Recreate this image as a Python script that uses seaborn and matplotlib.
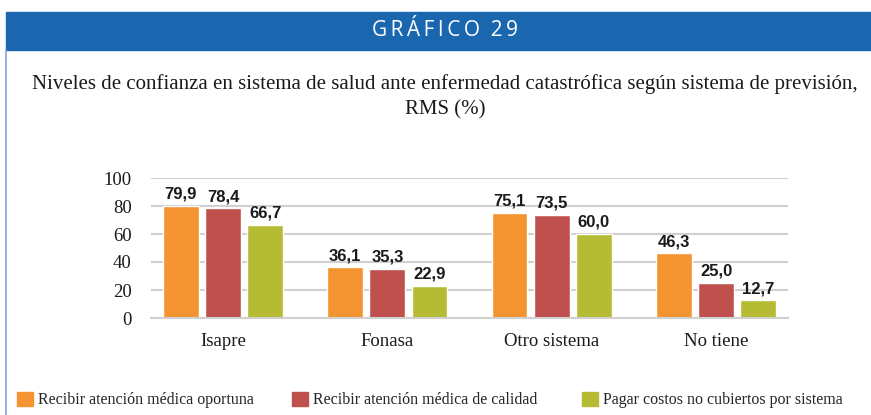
import numpy as np
import pandas as pd
import seaborn as sns
import matplotlib.pyplot as plt
from matplotlib.patches import Rectangle, Patch

# data
sistemas = ["Isapre", "Fonasa", "Otro sistema", "No tiene"]
series = ["Recibir atención médica oportuna",
          "Recibir atención médica de calidad",
          "Pagar costos no cubiertos por sistema"]
oportuna = [79.9, 36.1, 75.1, 46.3]
calidad = [78.4, 35.3, 73.5, 25.0]
costos = [66.7, 22.9, 60.0, 12.7]
colores = ["#F39430", "#C0504D", "#B5BB32"]

df = pd.DataFrame({"Sistema": sistemas, series[0]: oportuna,
                   series[1]: calidad, series[2]: costos})
long = df.melt(id_vars="Sistema", var_name="Serie", value_name="Porcentaje")

sns.set_theme(style="white")
serif = ["Liberation Serif", "DejaVu Serif"]
narrow = ["Liberation Sans", "DejaVu Sans"]

fig = plt.figure(figsize=(8.71, 4.15), dpi=100)
W, H = 871, 415
ax = fig.add_axes([151 / W, 1 - 318 / H, (788 - 151) / W, (318 - 178) / H])

sns.barplot(data=long, x="Sistema", y="Porcentaje", hue="Serie",
            palette=colores, width=0.77, gap=0.15, ax=ax, legend=False,
            saturation=1)

for cont in ax.containers:
    ax.bar_label(cont, labels=[f"{v:.1f}".replace(".", ",") for v in cont.datavalues],
                 padding=3, fontsize=12, fontweight="bold", family=narrow,
                 color="#1a1a1a")

ax.set_xlim(-0.438, 3.438)
ax.set_ylim(0, 100)
ax.set_yticks(range(0, 101, 20))
ax.yaxis.grid(True, color="#d0d0d0", linewidth=1.5)
ax.set_axisbelow(True)
for s in ["top", "right", "left"]:
    ax.spines[s].set_visible(False)
ax.spines["bottom"].set_color("#d0d0d0")
ax.spines["bottom"].set_linewidth(1.5)
ax.tick_params(axis="both", length=0, labelsize=13.5, colors="#1a1a1a")
ax.tick_params(axis="y", pad=14)
ax.tick_params(axis="x", pad=11)
for lab in ax.get_xticklabels() + ax.get_yticklabels():
    lab.set_family(serif)
ax.set_xlabel("")
ax.set_ylabel("")

# header band and frame line
fig.patches.append(Rectangle((6 / W, 1 - 50 / H), 1 - 6 / W, 38 / H,
                             transform=fig.transFigure, color="#1A67AF", zorder=0))
fig.lines.append(plt.Line2D([6 / W, 6 / W], [0, 1 - 50 / H],
                            transform=fig.transFigure, color="#7FA8D4", linewidth=1.2))
fig.text(445 / W, 1 - 31 / H, "\u2009".join("GRÁFICO") + "  " + "\u2009".join("29"),
         ha="center", va="center", color="white", fontsize=15,
         family=["Open Sans", "DejaVu Sans"])

fig.text(445 / W, 1 - 84 / H,
         "Niveles de confianza en sistema de salud ante enfermedad catastrófica según sistema de previsión,",
         ha="center", va="center", fontsize=15, family=serif, color="#1a1a1a")
fig.text(445 / W, 1 - 110 / H, "RMS (%)", ha="center", va="center",
         fontsize=15, family=serif, color="#1a1a1a")

# legend, one entry per position
for x0, c, name in zip([17, 292, 582], colores, series):
    fig.legend([Patch(color=c)], [name], loc="center left",
               bbox_to_anchor=(x0 / W, 1 - 400 / H), frameon=False,
               prop={"family": "Liberation Serif", "size": 11.5},
               handlelength=1.0, handleheight=1.0, handletextpad=0.3,
               borderaxespad=0, borderpad=0)

fig.savefig("out.png", dpi=100)
